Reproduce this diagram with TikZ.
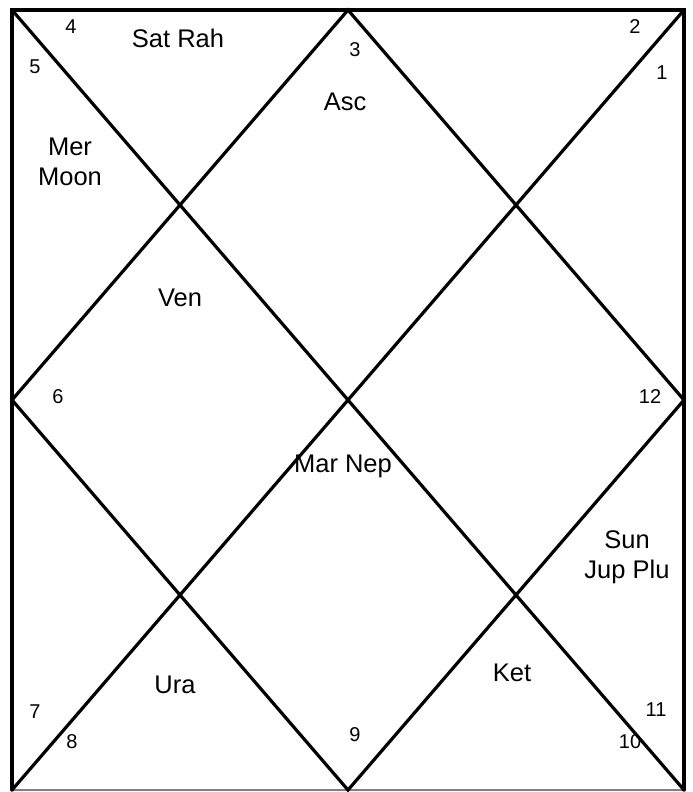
\documentclass[tikz,border=0pt]{standalone}
\usepackage{fontspec}
\setmainfont{Liberation Sans}
\begin{document}
\begin{tikzpicture}[x=1pt,y=-1pt,
  chartline/.style={line width=3.2pt,line cap=round,line join=miter},
  planet/.style={font=\fontsize{25.5}{30}\selectfont,align=center,inner sep=0pt},
  housenum/.style={font=\fontsize{20}{23}\selectfont,inner sep=0pt}]
\useasboundingbox (0,0) rectangle (693,792);
\coordinate (TL) at (12,10);
\coordinate (TR) at (684,10);
\coordinate (BL) at (12,790);
\coordinate (BR) at (684,790);
\coordinate (TM) at (348,10);
\coordinate (LM) at (12,400);
\coordinate (RM) at (684,400);
\coordinate (BM) at (348,790);
\draw[gray,line width=1.5pt] (BL) -- (BR);
\draw[chartline] (BL) -- (TL) -- (TR) -- (BR);
\draw[chartline] (TL) -- (BR);
\draw[chartline] (TR) -- (BL);
\draw[chartline] (TM) -- (LM) -- (BM) -- (RM) -- cycle;
% house numbers
\node[housenum] (h1) at (662,73) {1};
\node[housenum] (h2) at (635,27) {2};
\node[housenum] (h3) at (355,50) {3};
\node[housenum] (h4) at (71,27) {4};
\node[housenum] (h5) at (35,67) {5};
\node[housenum] (h6) at (58,397) {6};
\node[housenum] (h7) at (35,712) {7};
\node[housenum] (h8) at (72,742) {8};
\node[housenum] (h9) at (355,735) {9};
\node[housenum] (h10) at (630,742) {10};
\node[housenum] (h11) at (656,710) {11};
\node[housenum] (h12) at (650,397) {12};
% planets
\node[planet] (p1) at (178,38) {Sat Rah};
\node[planet] (p2) at (345,102) {Asc};
\node[planet] (p3) at (70,162) {Mer\\Moon};
\node[planet] (p4) at (180,298) {Ven};
\node[planet] (p5) at (343,466) {Mar Nep};
\node[planet] (p6) at (627,557) {Sun\\Jup Plu};
\node[planet] (p7) at (175,685) {Ura};
\node[planet] (p8) at (512,673) {Ket};
\end{tikzpicture}
\end{document}
